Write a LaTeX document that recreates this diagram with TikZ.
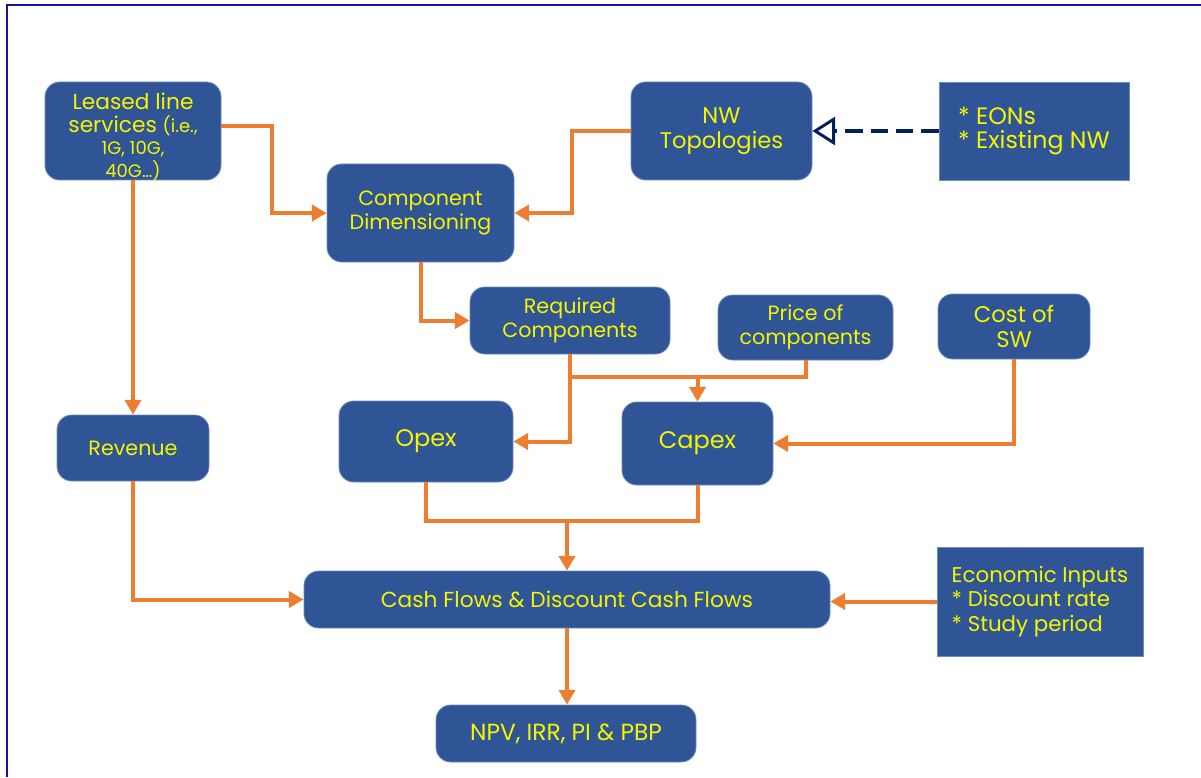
\documentclass[tikz,border=0pt]{standalone}
\usepackage{fontspec}
\setmainfont{Poppins}
\usetikzlibrary{arrows.meta,calc}
\definecolor{boxblue}{RGB}{47,85,151}
\definecolor{boxedge}{RGB}{110,140,190}
\definecolor{flowor}{RGB}{237,125,49}
\definecolor{navy}{RGB}{0,32,96}
\definecolor{frameblue}{RGB}{20,20,150}
\definecolor{txt}{RGB}{245,245,0}
\newcommand{\smalltxt}{\fontsize{13.5}{16}\selectfont}
\tikzset{
  box/.style={fill=boxblue, draw=boxedge, line width=0.6pt, rounded corners=11pt,
    inner sep=0pt, align=center, text=txt, font=\fontsize{15.5}{18}\selectfont},
  fs/.style={font=\fontsize{#1}{18.5}\selectfont},
  sqbox/.style={box, rounded corners=0pt},
  link/.style={draw=flowor, line width=3pt},
  flow/.style={link, -{Triangle[length=11pt,width=12pt]}},
  dashflow/.style={draw=navy, line width=3pt, dash pattern=on 13pt off 6pt,
    -{Triangle[open,length=17pt,width=21pt,line width=2.2pt]}},
}
\begin{document}
\begin{tikzpicture}[x=0.75pt,y=-0.75pt]
\useasboundingbox (0,0) rectangle (1201,777);
% page frame
\draw[frameblue, line width=1.5pt] (6.5,777) -- (6.5,5.5) -- (1201,5.5);

% blocks
\node[box, fs=16.3, minimum width=132pt, minimum height=73.5pt] (leased) at (133,131)
  {\raisebox{-10pt}[0pt][0pt]{\begin{tabular}{@{}c@{}}
     Leased line\\[-1.5pt]
     services {\smalltxt(i.e.,}\\[-1.5pt]
     {\smalltxt 1G, 10G,}\\[-1.5pt]
     {\smalltxt 40G\dots)}\end{tabular}}};
\node[box, fs=17, minimum width=135.75pt, minimum height=73.5pt] (nw) at (721.5,131)
  {NW\\Topologies};
\node[sqbox, fs=17.8, minimum width=142.5pt, minimum height=73.5pt, align=left] (eons) at (1034,131)
  {* EONs\\{}* Existing NW};
\node[box, minimum width=140.25pt, minimum height=73.5pt] (comp) at (420.5,213)
  {Component\\Dimensioning};
\node[box, minimum width=150pt, minimum height=50.25pt] (req) at (570,320.5)
  {Required\\Components};
\node[box, minimum width=131.25pt, minimum height=48.75pt] (price) at (805.5,327.5)
  {Price of\\components};
\node[box, fs=17, minimum width=114pt, minimum height=48.75pt] (cost) at (1014,326.5)
  {Cost of\\SW};
\node[box, minimum width=114pt, minimum height=49.5pt] (rev) at (133,448)
  {Revenue};
\node[box, fs=18, minimum width=130.5pt, minimum height=60.75pt] (opex) at (426,441.5)
  {Opex};
\node[box, fs=18, minimum width=113.25pt, minimum height=62.25pt] (capex) at (697.5,443.5)
  {Capex};
\node[box, fs=16.3, minimum width=394.5pt, minimum height=42.75pt] (cash) at (567,599.5)
  {Cash Flows \& Discount Cash Flows};
\node[sqbox, fs=16, minimum width=154.5pt, minimum height=81.75pt, align=left] (econ) at (1040,601.5)
  {\fontsize{16}{23.5}\selectfont Economic Inputs\\{}* Discount rate\\{}* Study period};
\node[box, fs=17.5, minimum width=195pt, minimum height=42.75pt] (npv) at (566,733.5)
  {NPV, IRR, PI \& PBP};

% connectors
\draw[flow] ([yshift=3.75pt]leased.east) -- ++(51,0) |- (comp.west);
\draw[flow] (nw.west) -- ++(-59,0) |- (comp.east);
\draw[dashflow] (eons.west) -- (nw.east);
\draw[flow] (comp.south) |- (req.west);
\draw[flow] (leased.south) -- (rev.north);
\draw[flow] (req.south) |- (opex.east);
\coordinate (jn) at ($(req.south)+(0,23)$);
\draw[link] (price.south) |- (jn);
\draw[flow] (jn -| capex.north) -- (capex.north);
\draw[flow] (cost.south) |- (capex.east);
\coordinate (jm) at ($(opex.south)+(0,39)$);
\draw[link] (opex.south) -- (jm) -| (capex.south);
\draw[flow] (jm -| cash.north) -- (cash.north);
\draw[flow] (rev.south) |- (cash.west);
\draw[flow] (econ.west) -- (econ.west -| cash.east);
\draw[flow] (cash.south) -- (cash.south |- npv.north);
\end{tikzpicture}
\end{document}
